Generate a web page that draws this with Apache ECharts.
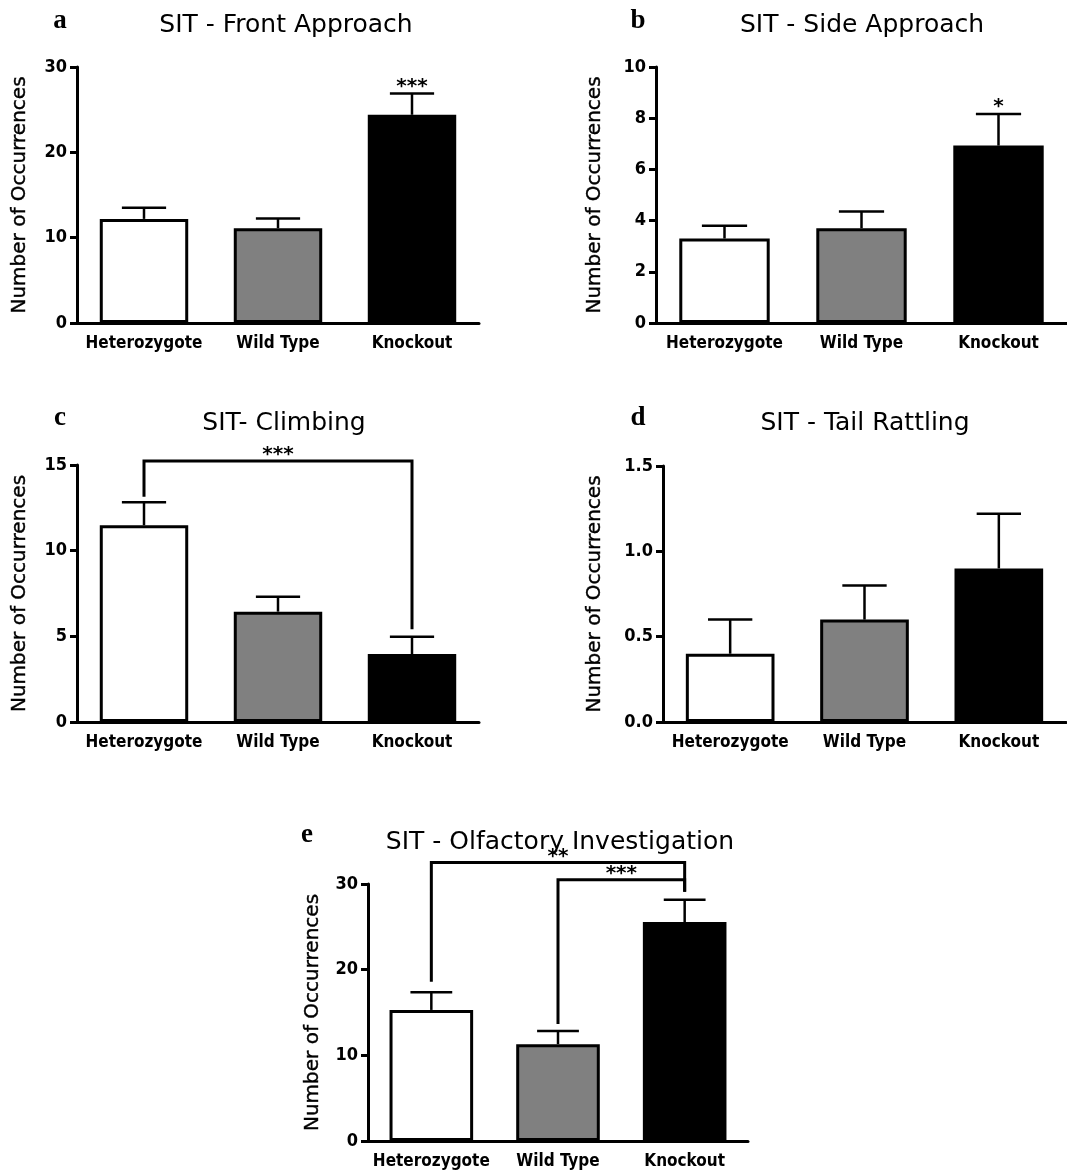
<!DOCTYPE html>
<html>
<head>
<meta charset="utf-8">
<script src="https://cdn.jsdelivr.net/npm/echarts@6/dist/echarts.min.js"></script>
<style>
  html, body { margin: 0; padding: 0; background: #fff; }
  #chart { width: 1067px; height: 1176px; }
</style>
</head>
<body>
<div id="chart"></div>
<script>
  // groups on every x axis
  const groups = ['Heterozygote', 'Wild Type', 'Knockout']

  // a - front approach
  const frontMean = [12.2, 11.1, 24.4]
  const frontSem = [1.3, 1.15, 2.5]
  const frontStars = ['', '', '***']
  // b - side approach
  const sideMean = [3.3, 3.7, 6.93]
  const sideSem = [0.5, 0.66, 1.23]
  const sideStars = ['', '', '*']
  // c - climbing
  const climbMean = [11.48, 6.44, 3.97]
  const climbSem = [1.34, 0.87, 1.01]
  const climbBrackets = [[0, 13.15, 2, 5.41, 15.24]]
  const climbBracketStars = ['***']
  // d - tail rattling
  const tailMean = [0.4, 0.6, 0.9]
  const tailSem = [0.2, 0.2, 0.32]
  // e - olfactory investigation
  const olfMean = [15.3, 11.3, 25.55]
  const olfSem = [2.07, 1.55, 2.6]
  const olfBrackets = [[0, 18.6, 2, 29.1, 32.5], [1, 13.67, 2, 29.1, 30.5]]
  const olfBracketStars = ['**', '***']

  // y axis ranges [max, interval]
  const frontTicks = [30, 10]
  const sideTicks = [10, 2]
  const climbTicks = [15, 5]
  const tailTicks = [1.5, 0.5]
  const olfTicks = [30, 10]

  const barFills = ['#ffffff', '#808080', '#000000']
  const FONT = '"DejaVu Sans Condensed", "DejaVu Sans", sans-serif'

  const panels = [
    { letter: 'a', title: 'SIT - Front Approach', mean: frontMean, sem: frontSem, stars: frontStars, ticks: frontTicks,
      grid: { left: 77, top: 67, width: 402, height: 256 }, titleX: 286, titleY: 13, letterX: 60, letterY: 8, nameGap: 47 },
    { letter: 'b', title: 'SIT - Side Approach', mean: sideMean, sem: sideSem, stars: sideStars, ticks: sideTicks,
      grid: { left: 656, top: 67, width: 411, height: 256 }, titleX: 862, titleY: 13, letterX: 638, letterY: 8, nameGap: 51 },
    { letter: 'c', title: 'SIT- Climbing', mean: climbMean, sem: climbSem, ticks: climbTicks,
      brackets: climbBrackets, bracketStars: climbBracketStars,
      grid: { left: 77, top: 465, width: 402, height: 257 }, titleX: 284, titleY: 411, letterX: 60, letterY: 405, nameGap: 47 },
    { letter: 'd', title: 'SIT - Tail Rattling', mean: tailMean, sem: tailSem, ticks: tailTicks, decimals: 1,
      grid: { left: 663, top: 466, width: 403, height: 256 }, titleX: 865, titleY: 411, letterX: 638, letterY: 405, nameGap: 58 },
    { letter: 'e', title: 'SIT - Olfactory Investigation', mean: olfMean, sem: olfSem, ticks: olfTicks,
      brackets: olfBrackets, bracketStars: olfBracketStars,
      grid: { left: 368, top: 884, width: 380, height: 257 }, titleX: 560, titleY: 830, letterX: 307, letterY: 822, nameGap: 45 }
  ]

  const titles = []
  const grids = []
  const xAxes = []
  const yAxes = []
  const series = []

  panels.forEach((p, k) => {
    titles.push({
      text: p.title, left: p.titleX, top: p.titleY, textAlign: 'center', padding: 0,
      textStyle: { fontFamily: '"DejaVu Sans", sans-serif', fontWeight: 'normal', fontSize: 25, color: '#000' }
    })
    titles.push({
      text: p.letter, left: p.letterX, top: p.letterY, textAlign: 'center', padding: 0,
      textStyle: { fontFamily: '"Liberation Serif", serif', fontWeight: 'bold', fontSize: 27, color: '#000' }
    })
    grids.push(Object.assign({ containLabel: false }, p.grid))
    xAxes.push({
      type: 'category', gridIndex: k, data: groups,
      axisLine: { lineStyle: { color: '#000', width: 3 } },
      axisTick: { alignWithLabel: true, length: 8, lineStyle: { color: '#000', width: 3 } },
      axisLabel: { fontFamily: FONT, fontWeight: 'bold', fontSize: 17, color: '#000', margin: 12, interval: 0 }
    })
    yAxes.push({
      type: 'value', gridIndex: k, min: 0, max: p.ticks[0], interval: p.ticks[1],
      name: 'Number of Occurrences', nameLocation: 'middle', nameGap: p.nameGap,
      nameTextStyle: { fontFamily: '"DejaVu Sans", sans-serif', fontWeight: 'normal', fontSize: 20, color: '#000',
        textBorderColor: '#000', textBorderWidth: 0.4 },
      splitLine: { show: false },
      axisLine: { show: true, lineStyle: { color: '#000', width: 3 } },
      axisTick: { show: true, length: 7, lineStyle: { color: '#000', width: 3 } },
      axisLabel: {
        fontFamily: FONT, fontWeight: 'bold', fontSize: 18, color: '#000', margin: 10,
        formatter: v => p.decimals ? v.toFixed(p.decimals) : String(v)
      }
    })

    // bars
    series.push({
      type: 'bar', xAxisIndex: k, yAxisIndex: k, barWidth: '66%', z: 3,
      itemStyle: { borderColor: '#000', borderWidth: 3 },
      data: p.mean.map((v, i) => ({ value: v, itemStyle: { color: barFills[i] } }))
    })

    // error bars (mean -> mean + sem) with stars above the cap
    const stars = p.stars || []
    series.push({
      type: 'custom', xAxisIndex: k, yAxisIndex: k, z: 2, clip: false,
      data: p.mean.map((v, i) => [i, v, v + p.sem[i]]),
      renderItem(params, api) {
        const x = api.value(0)
        const lo = api.coord([x, api.value(1)])
        const hi = api.coord([x, api.value(2)])
        const half = api.size([1, 0])[0] * 0.165
        const style = { stroke: '#000', lineWidth: 2.5 }
        const children = [
          { type: 'line', shape: { x1: lo[0], y1: lo[1], x2: hi[0], y2: hi[1] }, style },
          { type: 'line', shape: { x1: hi[0] - half, y1: hi[1], x2: hi[0] + half, y2: hi[1] }, style }
        ]
        const s = stars[params.dataIndex]
        if (s) {
          children.push({
            type: 'text',
            style: { text: s, x: hi[0], y: hi[1] + 3, align: 'center', verticalAlign: 'bottom',
              font: 'bold 20px "DejaVu Sans", sans-serif', fill: '#000' }
          })
        }
        return { type: 'group', children }
      }
    })

    // significance brackets
    if (p.brackets) {
      const bStars = p.bracketStars
      series.push({
        type: 'custom', xAxisIndex: k, yAxisIndex: k, z: 4, clip: false,
        data: p.brackets,
        renderItem(params, api) {
          const a = api.coord([api.value(0), api.value(1)])
          const aTop = api.coord([api.value(0), api.value(4)])
          const b = api.coord([api.value(2), api.value(3)])
          const bTop = api.coord([api.value(2), api.value(4)])
          return {
            type: 'group',
            children: [
              { type: 'polyline', shape: { points: [a, aTop, bTop, b] },
                style: { stroke: '#000', lineWidth: 3, fill: null } },
              { type: 'text',
                style: { text: bStars[params.dataIndex], x: (aTop[0] + bTop[0]) / 2, y: aTop[1] + 4,
                  align: 'center', verticalAlign: 'bottom',
                  font: 'bold 20px "DejaVu Sans", sans-serif', fill: '#000' } }
            ]
          }
        }
      })
    }
  })

  const myChart = echarts.init(document.getElementById('chart'))
  myChart.setOption({
    animation: false,
    backgroundColor: '#fff',
    title: titles,
    grid: grids,
    xAxis: xAxes,
    yAxis: yAxes,
    series: series
  }, true)
</script>
</body>
</html>
